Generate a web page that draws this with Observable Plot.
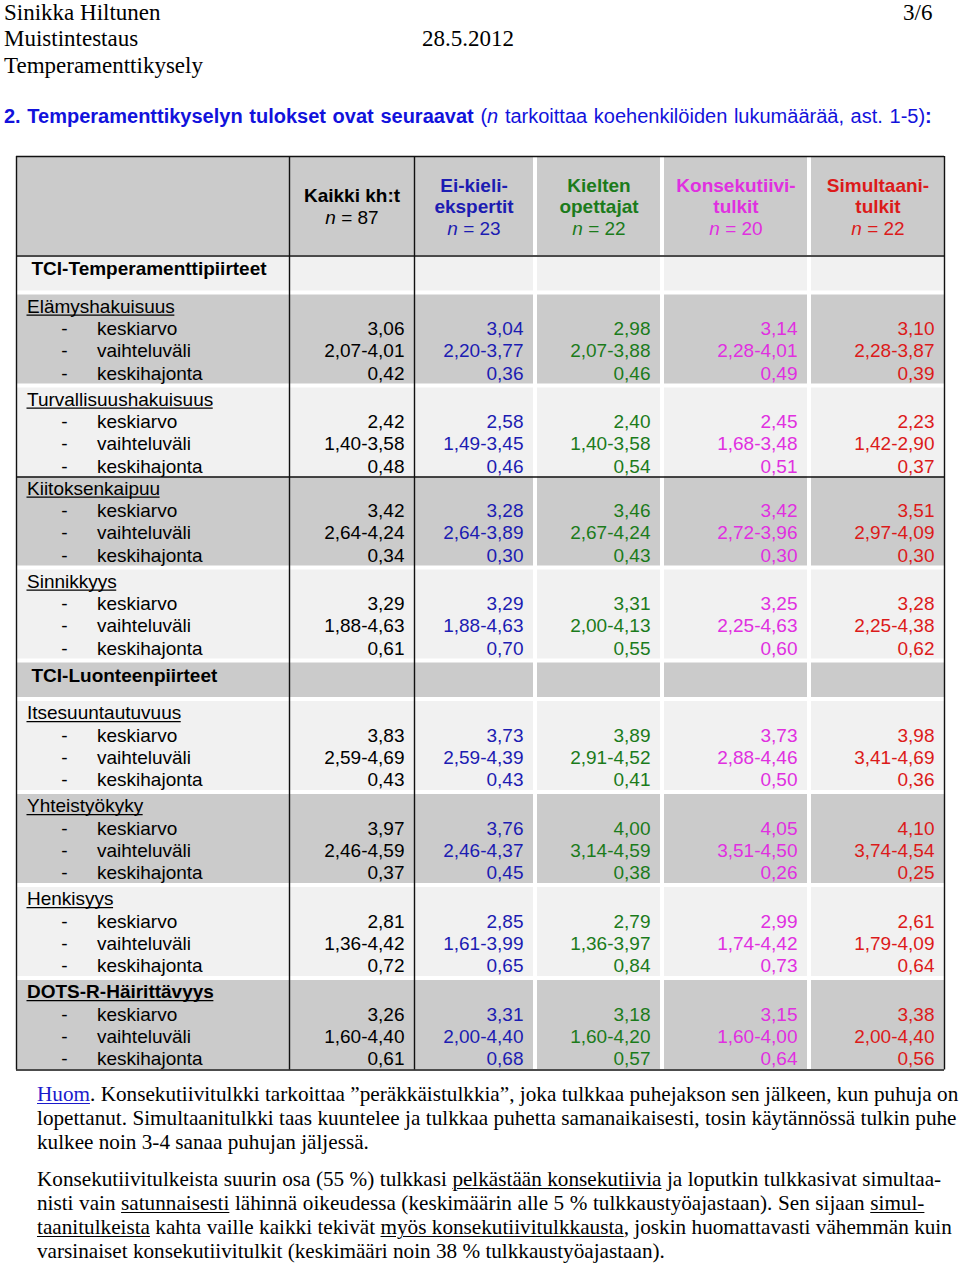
<!DOCTYPE html>
<html>
<head>
<meta charset="utf-8">
<script src="https://cdn.jsdelivr.net/npm/d3@7"></script>
<script src="https://cdn.jsdelivr.net/npm/@observablehq/plot@0.6"></script>
<style>
  html, body { margin: 0; padding: 0; background: #ffffff; }
  body { width: 960px; height: 1267px; position: relative; overflow: hidden; }
  .ln { position: absolute; white-space: nowrap; line-height: 1; top: 0; left: 0; }
  .serif { font-family: "Liberation Serif", "Times New Roman", serif; color: #000; }
  .sans { font-family: "Liberation Sans", Arial, sans-serif; }
  .bl { display: inline-block; width: 0; height: 0; }
  #chart { position: absolute; left: 0; top: 150px; }
  u { text-decoration-thickness: 1px; text-underline-offset: 2px; }
</style>
</head>
<body>
<div id="chart"></div>
<script>
// ================= DATA =================
const headerLeft = ["Sinikka Hiltunen", "Muistintestaus", "Temperamenttikysely"];
const headerDate = "28.5.2012";
const headerPage = "3/6";
const headingBold = "2. Temperamenttikyselyn tulokset ovat seuraavat";
const headingNoteSymbol = "n";
const headingNoteText = " tarkoittaa koehenkilöiden lukumäärää, ast. 1-5)";

const groups = ["Kaikki kh:t", "Ei-kieli-ekspertit", "Kielten opettajat", "Konsekutiivitulkit", "Simultaanitulkit"];
const groupHeadLines = [["Kaikki kh:t"], ["Ei-kieli-", "ekspertit"], ["Kielten", "opettajat"], ["Konsekutiivi-", "tulkit"], ["Simultaani-", "tulkit"]];
const groupN = [87, 23, 22, 20, 22];

const sections = ["TCI-Temperamenttipiirteet", "TCI-Luonteenpiirteet"];
const traits = ["Elämyshakuisuus", "Turvallisuushakuisuus", "Kiitoksenkaipuu", "Sinnikkyys",
                "Itsesuuntautuvuus", "Yhteistyökyky", "Henkisyys", "DOTS-R-Häirittävyys"];
const traitSection = [0, 0, 0, 0, 1, 1, 1, 1];
const statLabels = ["keskiarvo", "vaihteluväli", "keskihajonta"];

// rows = traits, columns = groups
const mean = [
  [3.06, 3.04, 2.98, 3.14, 3.10],
  [2.42, 2.58, 2.40, 2.45, 2.23],
  [3.42, 3.28, 3.46, 3.42, 3.51],
  [3.29, 3.29, 3.31, 3.25, 3.28],
  [3.83, 3.73, 3.89, 3.73, 3.98],
  [3.97, 3.76, 4.00, 4.05, 4.10],
  [2.81, 2.85, 2.79, 2.99, 2.61],
  [3.26, 3.31, 3.18, 3.15, 3.38]
];
const rangeMin = [
  [2.07, 2.20, 2.07, 2.28, 2.28],
  [1.40, 1.49, 1.40, 1.68, 1.42],
  [2.64, 2.64, 2.67, 2.72, 2.97],
  [1.88, 1.88, 2.00, 2.25, 2.25],
  [2.59, 2.59, 2.91, 2.88, 3.41],
  [2.46, 2.46, 3.14, 3.51, 3.74],
  [1.36, 1.61, 1.36, 1.74, 1.79],
  [1.60, 2.00, 1.60, 1.60, 2.00]
];
const rangeMax = [
  [4.01, 3.77, 3.88, 4.01, 3.87],
  [3.58, 3.45, 3.58, 3.48, 2.90],
  [4.24, 3.89, 4.24, 3.96, 4.09],
  [4.63, 4.63, 4.13, 4.63, 4.38],
  [4.69, 4.39, 4.52, 4.46, 4.69],
  [4.59, 4.37, 4.59, 4.50, 4.54],
  [4.42, 3.99, 3.97, 4.42, 4.09],
  [4.40, 4.40, 4.20, 4.00, 4.40]
];
const sd = [
  [0.42, 0.36, 0.46, 0.49, 0.39],
  [0.48, 0.46, 0.54, 0.51, 0.37],
  [0.34, 0.30, 0.43, 0.30, 0.30],
  [0.61, 0.70, 0.55, 0.60, 0.62],
  [0.43, 0.43, 0.41, 0.50, 0.36],
  [0.37, 0.45, 0.38, 0.26, 0.25],
  [0.72, 0.65, 0.84, 0.73, 0.64],
  [0.61, 0.68, 0.57, 0.64, 0.56]
];

const footnoteLines = [
  '<span class="huom">Huom</span>. Konsekutiivitulkki tarkoittaa ”peräkkäistulkkia”, joka tulkkaa puhejakson sen jälkeen, kun puhuja on',
  'lopettanut. Simultaanitulkki taas kuuntelee ja tulkkaa puhetta samanaikaisesti, tosin käytännössä tulkin puhe',
  'kulkee noin 3-4 sanaa puhujan jäljessä.',
  'Konsekutiivitulkeista suurin osa (55 %) tulkkasi <u>pelkästään konsekutiivia</u> ja loputkin tulkkasivat simultaa-',
  'nisti vain <u>satunnaisesti</u> lähinnä oikeudessa (keskimäärin alle 5 % tulkkaustyöajastaan). Sen sijaan <u>simul-</u>',
  '<u>taanitulkeista</u> kahta vaille kaikki tekivät <u>myös konsekutiivitulkkausta</u>, joskin huomattavasti vähemmän kuin',
  'varsinaiset konsekutiivitulkit (keskimääri noin 38 % tulkkaustyöajastaan).'
];

// ================= STYLE / LAYOUT =================
const groupColor = ["#000000", "#1c1cb2", "#1b7b1b", "#e030e0", "#dc1a1a"];
const headingColor = "#1212dc";
const linkColor = "#1a1acc";
const DARK = "#cbcbcb", LIGHT = "#f1f1f1";
const FS = 19;
const FONT = '"Liberation Sans", Arial, sans-serif';

const TABLE_LEFT = 16, TABLE_RIGHT = 944, TABLE_TOP = 156;
const colEdges = [[16, 289], [289, 414], [414, 533], [537, 660], [664, 807], [811, 944]];
const HEADER_H = 99, SECTION_H = 34.5, TRAIT_H = 89, GAP = 4, LINE_H = 22.3;
const RULE_AFTER_TRAIT = 1;
const PAD = 10;

// ---------- HTML text helpers ----------
function placeLine(html, cls, size, left, baseline, opts = {}) {
  const d = document.createElement("div");
  d.className = "ln " + cls;
  d.style.fontSize = size + "px";
  if (opts.color) d.style.color = opts.color;
  if (opts.weight) d.style.fontWeight = opts.weight;
  d.innerHTML = html + '<span class="bl"></span>';
  document.body.appendChild(d);
  const off = d.querySelector(".bl").offsetTop;
  d.style.top = (baseline - off) + "px";
  const w = d.offsetWidth;
  if (opts.right != null && opts.alignRight) {
    d.style.left = (opts.right - w) + "px";
  } else {
    d.style.left = left + "px";
    if (opts.right != null) {
      const spaces = (d.textContent.match(/ /g) || []).length;
      if (spaces > 0) d.style.wordSpacing = ((opts.right - left - w) / spaces) + "px";
    }
  }
  return d;
}

// header lines
const headBase = [19.5, 46, 72.5];
headerLeft.forEach((t, i) => placeLine(t, "serif", 23, 4, headBase[i]));
placeLine(headerDate, "serif", 23, 422, headBase[1]);
placeLine(headerPage, "serif", 23, 0, headBase[0], {right: 932, alignRight: true});

placeLine(
  `<b>${headingBold}</b> (<i>${headingNoteSymbol}</i>${headingNoteText}<b>:</b>`,
  "sans", 20, 4, 123, {color: headingColor, right: 932}
);

// footnote
const footBase = [1101, 1125, 1149, 1186, 1210, 1234, 1258];
const footRight = [958, 957, null, 941, 924, 952, null];
footnoteLines.forEach((h, i) => {
  const d = placeLine(h, "serif", 21.2, 37, footBase[i], footRight[i] != null ? {right: footRight[i]} : {});
  d.querySelectorAll(".huom").forEach(s => { s.style.color = linkColor; s.style.textDecoration = "underline"; s.style.textDecorationThickness = "1px"; s.style.textUnderlineOffset = "2px"; });
});

// ---------- table layout ----------
const blocks = [];
const hRules = [TABLE_TOP];
let cy = TABLE_TOP;
blocks.push({kind: "header", y1: cy, y2: cy + HEADER_H});
cy += HEADER_H;
hRules.push(cy + 0.5);
cy += 1;
let prevSection = -1;
traits.forEach((t, i) => {
  const s = traitSection[i];
  if (s !== prevSection) {
    blocks.push({kind: "section", label: sections[s], y1: cy, y2: cy + SECTION_H});
    cy += SECTION_H + GAP;
    prevSection = s;
  }
  blocks.push({kind: "trait", trait: i, y1: cy, y2: cy + TRAIT_H});
  cy += TRAIT_H;
  if (i === RULE_AFTER_TRAIT) hRules.push(cy);
  else if (i < traits.length - 1) cy += GAP;
});
const TABLE_BOTTOM = cy + 0.5;
hRules.push(TABLE_BOTTOM);

const cells = [];
blocks.forEach((b, bi) => {
  colEdges.forEach(([x1, x2]) => cells.push({x1, x2, y1: b.y1, y2: b.y2, fill: bi % 2 === 0 ? DARK : LIGHT}));
});

const fmt = v => v.toFixed(2).replace(".", ",");
const colCenter = c => (colEdges[c + 1][0] + colEdges[c + 1][1]) / 2;
const colRight = c => colEdges[c + 1][1] - PAD;

const headTexts = [], nTexts = [], sectionTexts = [], titleTexts = [], titleBoldTexts = [],
      dashTexts = [], statTexts = [], valueTexts = [];

blocks.forEach(b => {
  if (b.kind === "header") {
    const mid = b.y1 + 56.5;
    groups.forEach((g, c) => {
      const lines = groupHeadLines[c];
      const k = lines.length + 1;
      lines.forEach((ln, i) => headTexts.push({x: colCenter(c), y: mid + (i - (k - 1) / 2) * 21.5, text: ln, color: groupColor[c]}));
      nTexts.push({x: colCenter(c), y: mid + (k - 1 - (k - 1) / 2) * 21.5, text: "n = " + groupN[c], color: groupColor[c]});
    });
  } else if (b.kind === "section") {
    sectionTexts.push({x: TABLE_LEFT + 15, y: b.y1 + 18.5, text: b.label});
  } else {
    const i = b.trait;
    const base = b.y1 + 17.8;
    const isBold = traits[i].startsWith("DOTS");
    (isBold ? titleBoldTexts : titleTexts).push({x: TABLE_LEFT + 10.5, y: base, text: traits[i], bold: isBold});
    statLabels.forEach((s, j) => {
      const y = base + LINE_H * (j + 1);
      dashTexts.push({x: 64, y, text: "-"});
      statTexts.push({x: 96.5, y, text: s});
      groups.forEach((g, c) => {
        const txt = j === 0 ? fmt(mean[i][c]) : j === 1 ? fmt(rangeMin[i][c]) + "-" + fmt(rangeMax[i][c]) : fmt(sd[i][c]);
        valueTexts.push({x: colRight(c), y, text: txt, color: groupColor[c]});
      });
    });
  }
});

// underline rules for trait titles (measured text widths)
const ctx = document.createElement("canvas").getContext("2d");
const underlines = [...titleTexts, ...titleBoldTexts].map(t => {
  ctx.font = `${t.bold ? "bold " : ""}${FS}px ${FONT}`;
  const w = ctx.measureText(t.text).width;
  return {x1: t.x, x2: t.x + w, y: t.y + 2.4};
});

const textOpts = (extra) => Object.assign({x: "x", y: "y", text: "text", fontSize: FS, lineAnchor: "bottom"}, extra);

const chart = Plot.plot({
  width: 960,
  height: 930,
  margin: 0,
  x: {type: "linear", domain: [0, 960], range: [0, 960], axis: null},
  y: {type: "linear", domain: [150, 1080], range: [0, 930], axis: null},
  color: {type: "identity"},
  style: {fontFamily: FONT, fontSize: FS + "px", background: "transparent", color: "#000"},
  marks: [
    Plot.rect(cells, {x1: "x1", x2: "x2", y1: "y1", y2: "y2", fill: "fill"}),
    Plot.ruleY(hRules, {y: d => d, x1: TABLE_LEFT, x2: TABLE_RIGHT, stroke: "#111", strokeWidth: 1.4}),
    Plot.ruleX([colEdges[0][0], colEdges[1][0], colEdges[2][0], colEdges[5][1]], {x: d => d, y1: TABLE_TOP, y2: TABLE_BOTTOM, stroke: "#111", strokeWidth: 1.4}),
    Plot.text(headTexts, textOpts({fill: "color", textAnchor: "middle", fontWeight: "bold"})),
    Plot.text(nTexts, textOpts({fill: "color", textAnchor: "middle", className: "nline"})),
    Plot.text(sectionTexts, textOpts({fill: "#000", textAnchor: "start", fontWeight: "bold"})),
    Plot.text(titleTexts, textOpts({fill: "#000", textAnchor: "start"})),
    Plot.text(titleBoldTexts, textOpts({fill: "#000", textAnchor: "start", fontWeight: "bold"})),
    Plot.ruleY(underlines, {y: "y", x1: "x1", x2: "x2", stroke: "#000", strokeWidth: 1.3}),
    Plot.text(dashTexts, textOpts({fill: "#000", textAnchor: "middle"})),
    Plot.text(statTexts, textOpts({fill: "#000", textAnchor: "start"})),
    Plot.text(valueTexts, textOpts({fill: "color", textAnchor: "end"}))
  ]
});

// italic "n" in the n = … lines
chart.querySelectorAll("g.nline text").forEach(el => {
  const t = el.textContent;
  el.textContent = "";
  const ts = document.createElementNS("http://www.w3.org/2000/svg", "tspan");
  ts.setAttribute("font-style", "italic");
  ts.textContent = t.slice(0, 1);
  el.appendChild(ts);
  el.appendChild(document.createTextNode(t.slice(1)));
});

document.getElementById("chart").appendChild(chart);
</script>
</body>
</html>
